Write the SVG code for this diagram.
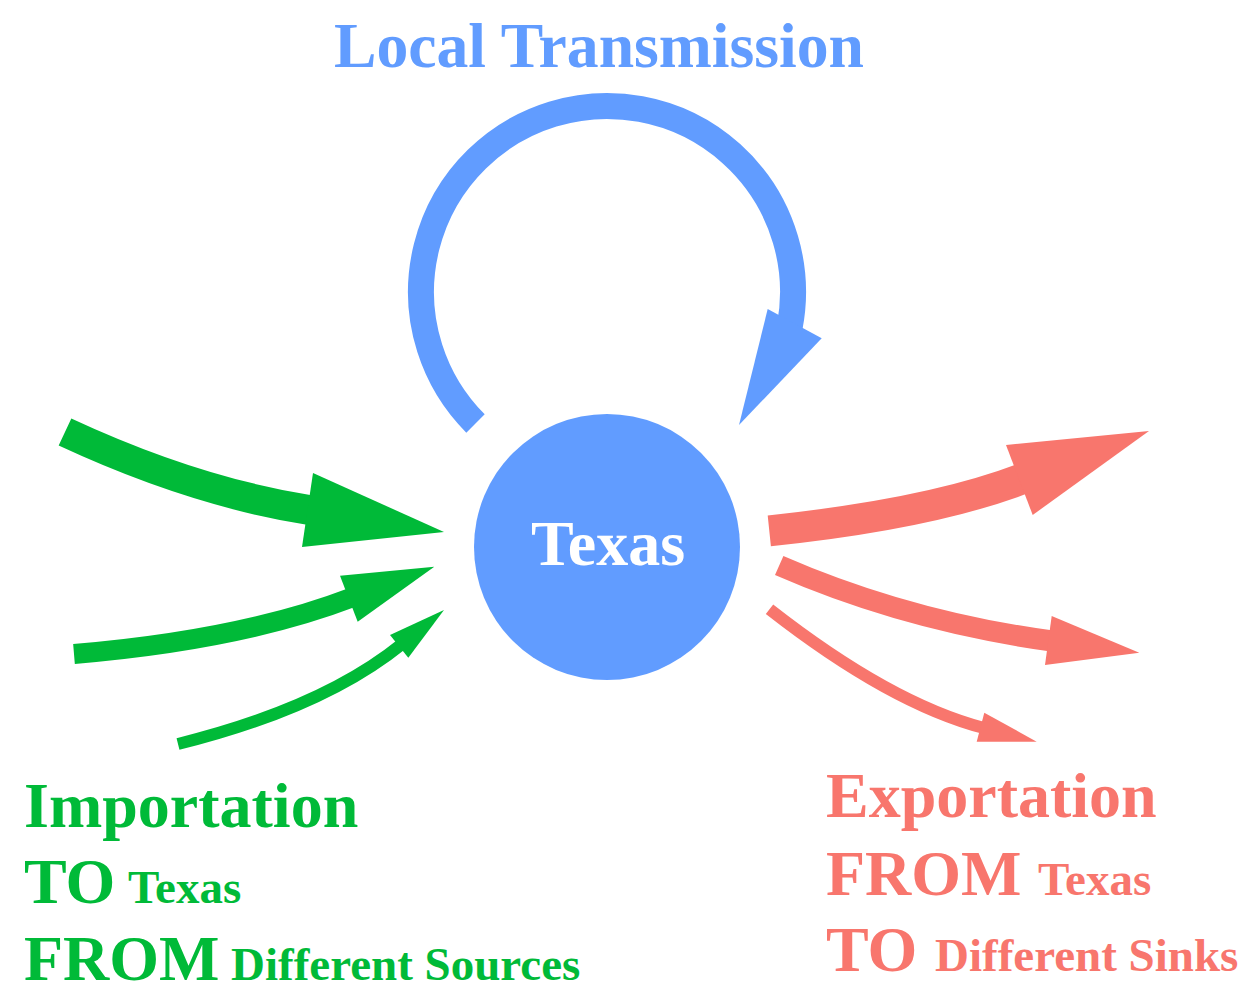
<svg xmlns="http://www.w3.org/2000/svg" width="1250" height="994" viewBox="0 0 1250 994">
<style>
text{font-family:"Liberation Serif","Times New Roman",serif;font-weight:bold}
.big{font-size:64px}
.small{font-size:47px}
.g{fill:#00BA38}
.r{fill:#F8766D}
.b{fill:#619CFF}
.gs{fill:none;stroke:#00BA38;stroke-linecap:butt}
.rs{fill:none;stroke:#F8766D;stroke-linecap:butt}
.bs{fill:none;stroke:#619CFF;stroke-linecap:butt}
</style>
<rect width="1250" height="994" fill="#ffffff"/>
<g id="connectors">
  <g id="local-loop">
    <path class="bs" stroke-width="26" d="M475.5,423.5 A186,186 0 1 1 789.6,327.5"/>
    <polygon class="b" points="767.7,309 821.7,338.3 739,425"/>
  </g>
  <g id="import-1">
    <path class="gs" stroke-width="30" d="M65,432 Q194,492 312,510.5"/>
    <polygon class="g" points="313,473 444,532 302,547"/>
  </g>
  <g id="import-2">
    <path class="gs" stroke-width="20" d="M74,654 Q241,640 352,597.5"/>
    <polygon class="g" points="340,575.7 434.3,566.7 357.7,621.7"/>
  </g>
  <g id="import-3">
    <path class="gs" stroke-width="12" d="M178,744 Q323,708 402,644"/>
    <polygon class="g" points="390,635 444,610 408.3,657.7"/>
  </g>
  <g id="export-1">
    <path class="rs" stroke-width="31" d="M769.3,530.8 Q929.5,514.2 1023,478.6"/>
    <polygon class="r" points="1006,445 1149,431 1032.7,515"/>
  </g>
  <g id="export-2">
    <path class="rs" stroke-width="21" d="M779.2,565.5 Q906.5,621.1 1052,641"/>
    <polygon class="r" points="1051.7,616 1139.3,652.7 1045,665"/>
  </g>
  <g id="export-3">
    <path class="rs" stroke-width="12" d="M769.5,609.2 Q890.1,703.5 984,728"/>
    <polygon class="r" points="984.3,712.7 1036.7,741.7 976.7,741.7"/>
  </g>
</g>
<g id="texas">
  <circle class="b" cx="607" cy="547" r="133"/>
  <text class="big" x="608" y="565" text-anchor="middle" fill="#ffffff">Texas</text>
</g>
<g id="local-label">
  <text class="big b" x="599" y="67" text-anchor="middle" textLength="530" lengthAdjust="spacingAndGlyphs">Local Transmission</text>
</g>
<g id="import-label">
  <text class="big g" x="24" y="827">Importation</text>
  <text class="g" x="24" y="903"><tspan class="big">TO</tspan><tspan class="small" x="128">Texas</tspan></text>
  <text class="g" x="24" y="980"><tspan class="big">FROM</tspan><tspan class="small" x="231">Different Sources</tspan></text>
</g>
<g id="export-label">
  <text class="big r" x="826" y="817">Exportation</text>
  <text class="r" x="826" y="895"><tspan class="big">FROM</tspan><tspan class="small" x="1038">Texas</tspan></text>
  <text class="r" x="826" y="971"><tspan class="big">TO</tspan><tspan class="small" x="935">Different Sinks</tspan></text>
</g>
</svg>
